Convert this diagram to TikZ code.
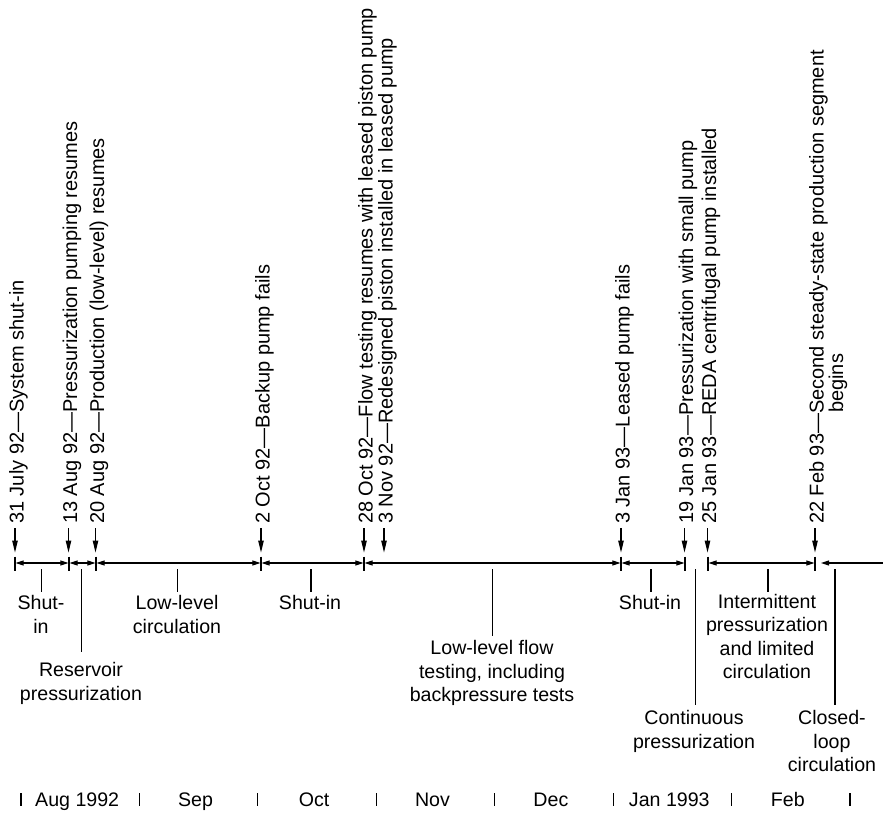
\documentclass[tikz,border=0pt]{standalone}
\usepackage{fontspec}
\setmainfont{Liberation Sans}
\usetikzlibrary{arrows.meta}
\begin{document}
\begin{tikzpicture}[x=1pt,y=-1pt,
  lbl/.style={font=\fontsize{19.6}{23.3}\selectfont, inner sep=0pt, align=center},
  evlbl/.style={font=\fontsize{20}{23}\selectfont, inner sep=0pt, rotate=90, anchor=base west},
  evarrow/.style={line width=1.1pt, -{Triangle[length=12pt,width=5.5pt]}},
  dim/.style={line width=1.1pt, {Triangle[length=8pt,width=5pt]}-{Triangle[length=8pt,width=5pt]}, shorten <=0.6pt, shorten >=0.6pt},
  dimleft/.style={line width=1.1pt, {Triangle[length=8pt,width=5pt]}-},
  tickmark/.style={line width=1.1pt},
  leader/.style={line width=1.1pt}]
\useasboundingbox (0,0) rectangle (883,813);

% ---- event labels with arrows
\foreach \n/\x/\t in {
  e1/15/{31 July 92—System shut-in},
  e2/68.5/{13 Aug 92—Pressurization pumping resumes},
  e3/95.5/{20 Aug 92—Production (low-level) resumes},
  e4/261/{2 Oct 92—Backup pump fails},
  e5/364/{28 Oct 92—Flow testing resumes with leased piston pump},
  e6/384/{3 Nov 92—Redesigned piston installed in leased pump},
  e7/621/{3 Jan 93—Leased pump fails},
  e8/684.5/{19 Jan 93—Pressurization with small pump},
  e9/707.5/{25 Jan 93—REDA centrifugal pump installed},
  e10/815/{22 Feb 93—Second steady-state production segment}} {
  \node[evlbl] (\n) at (\x+8.5,524) {\t};
  \coordinate (\n a) at (\x,528);
  \coordinate (\n b) at (\x,552.5);
  \draw[evarrow] (\n a) -- (\n b);
}
\node[evlbl] (e10b) at (843,413) {begins};

% ---- timeline ticks
\foreach \n/\x in {t1/15,t2/69,t3/96,t4/261,t5/364,t6/621,t7/685,t8/708,t9/815} {
  \coordinate (\n) at (\x,563);
  \draw[tickmark] (\x,556.5) -- (\x,570.5);
}
\draw[dim] (t1) -- (t2);
\draw[dim] (t2) -- (t3);
\draw[dim] (t3) -- (t4);
\draw[dim] (t4) -- (t5);
\draw[dim] (t5) -- (t6);
\draw[dim] (t6) -- (t7);
\draw[dim] (t8) -- (t9);
\coordinate (t9a) at (821,563);
\coordinate (tend) at (883,563);
\draw[dimleft] (t9a) -- (tend);

% ---- period labels
\node[lbl, anchor=north] (L1) at (41,595.5) {Shut-\\in};
\node[lbl, anchor=north] (L2) at (81,662.5) {Reservoir\\pressurization};
\node[lbl, anchor=north] (L3) at (177,595.5) {Low-level\\circulation};
\node[lbl, anchor=north] (L4) at (310,595.5) {Shut-in};
\node[lbl, anchor=north] (L5) at (492,640.5) {Low-level flow\\testing, including\\backpressure tests};
\node[lbl, anchor=north] (L6) at (650,595.5) {Shut-in};
\node[lbl, anchor=north] (L7) at (694,710.5) {Continuous\\pressurization};
\node[lbl, anchor=north] (L8) at (767,594) {Intermittent\\pressurization\\and limited\\circulation};
\node[lbl, anchor=north] (L9) at (832,710.5) {Closed-\\loop\\circulation};

% ---- leaders
\foreach \n/\x/\yb in {1/41.7/592, 2/81.7/652, 3/177.3/592, 4/311/592, 5/492.7/636,
  6/651/592, 7/695.5/705, 8/768/592, 9/835/705} {
  \coordinate (p\n t) at (\x,569);
  \coordinate (p\n b) at (\x,\yb);
  \draw[leader] (p\n t) -- (p\n b);
}

% ---- month axis
\foreach \x in {21,139.4,257.9,376.3,494.7,613.1,731.6,850} {
  \draw[tickmark] (\x,793) -- (\x,806);
}
\foreach \n/\x/\t in {m1/77.2/{Aug 1992}, m2/195.6/Sep, m3/314.1/Oct, m4/432.5/Nov,
  m5/550.9/Dec, m6/669.3/{Jan 1993}, m7/787.8/Feb} {
  \node[lbl, anchor=base] (\n) at (\x,806) {\t};
}
\end{tikzpicture}
\end{document}
